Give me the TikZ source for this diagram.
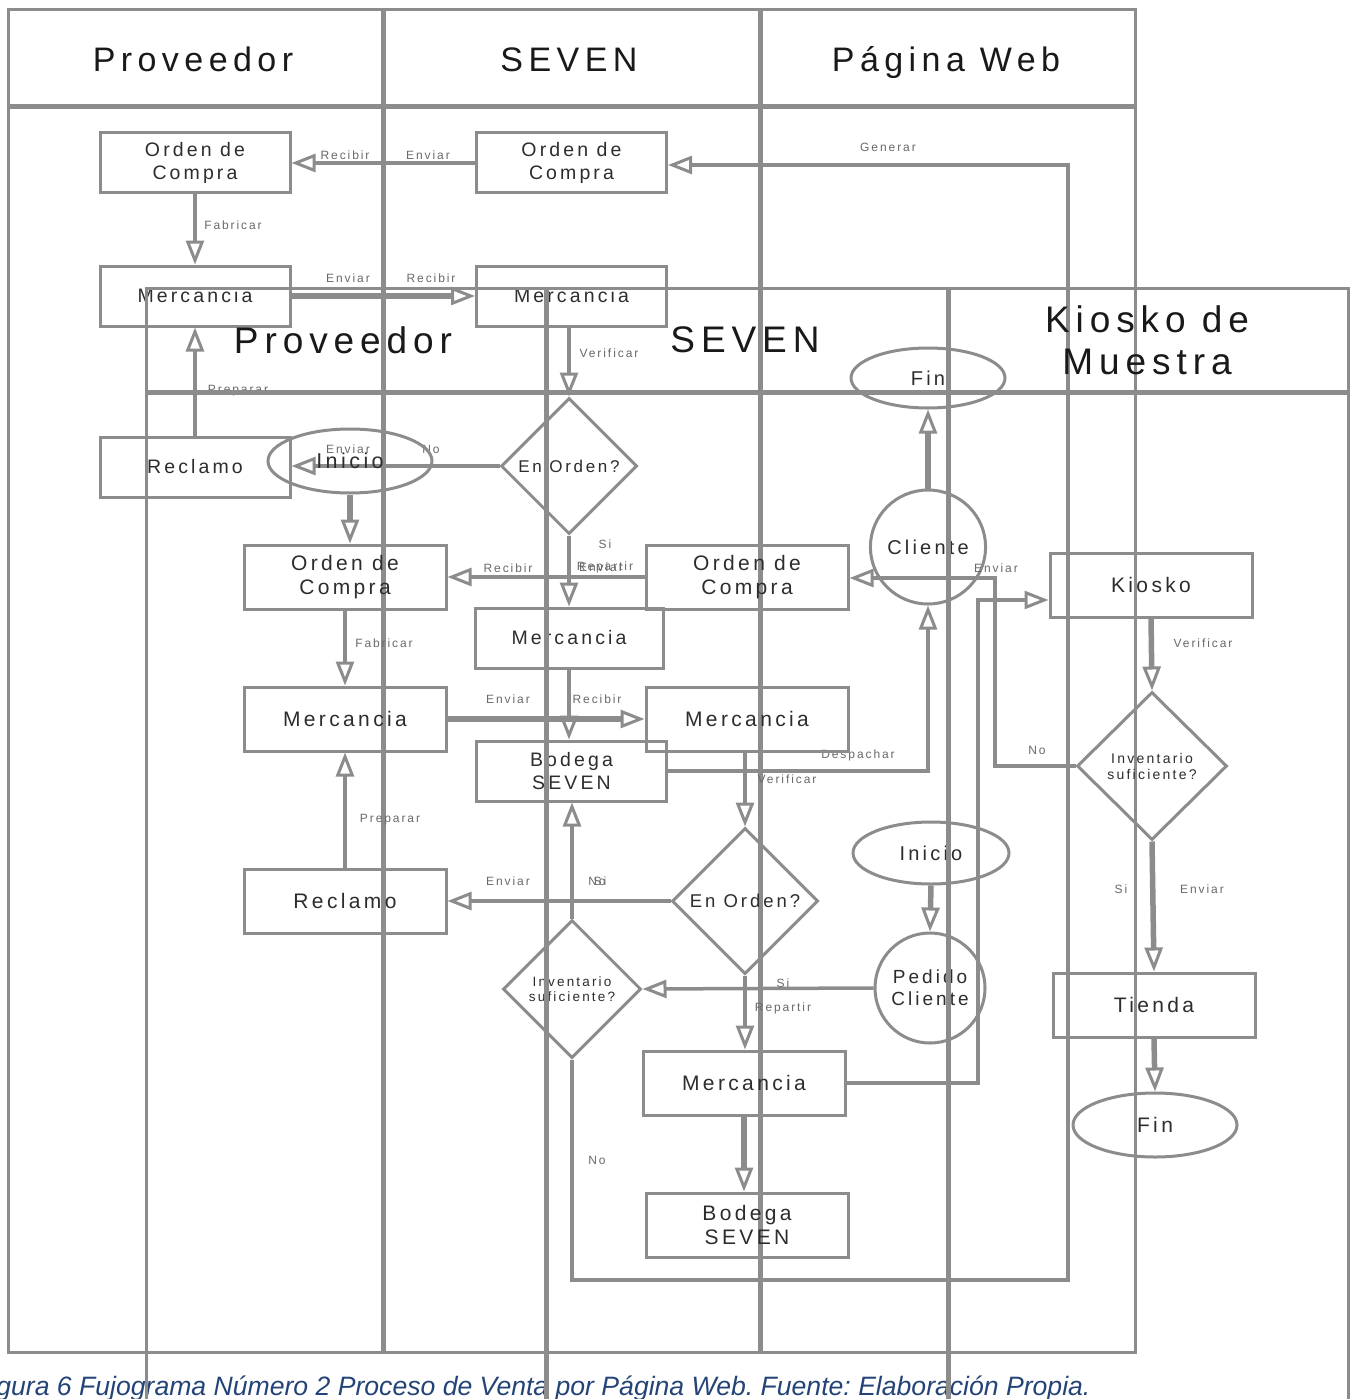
\documentclass[tikz,border=0pt]{standalone}
\usepackage{fontspec}
\setmainfont{Liberation Sans}
\newfontfamily\spfont[LetterSpace=16]{Liberation Sans}
\usetikzlibrary{shapes.geometric,arrows.meta}
\definecolor{lc}{RGB}{140,140,140}
\definecolor{tc}{RGB}{45,45,45}
\definecolor{hc}{RGB}{25,25,25}
\definecolor{lbc}{RGB}{105,105,105}
\definecolor{capc}{RGB}{36,68,120}
\frenchspacing
\begin{document}
\begin{tikzpicture}[x=1pt,y=-1pt,
  frame/.style={draw=lc, line width=3pt},
  div/.style={draw=lc, line width=5pt},
  hdr/.style={text=hc, align=center, inner sep=0pt},
  box/.style={draw=lc, line width=3pt, rectangle, inner sep=0pt, text=tc, align=center},
  abox/.style={box, minimum width=190pt, minimum height=60pt, font=\spfont\fontsize{19.5}{23}\selectfont},
  bbox/.style={box, minimum width=202pt, minimum height=64pt, font=\spfont\fontsize{21}{24}\selectfont},
  dia/.style={draw=lc, line width=3pt, diamond, inner sep=0pt, shape aspect=1, text=tc, align=center},
  ell/.style={draw=lc, line width=3pt, ellipse, inner sep=0pt, text=tc, align=center},
  conn/.style={draw=lc, line width=3.5pt},
  thk/.style={draw=lc, line width=5.5pt},
  arr/.style={-{Triangle[open,length=24pt,width=18pt,line width=3pt]}},
  lbl/.style={font=\spfont\fontsize{12}{14}\selectfont, text=lbc, inner sep=0pt}
]
\useasboundingbox (0,0) rectangle (1355,1399);
\clip (0,0) rectangle (1355,1399);
\fill[white] (0,0) rectangle (1355,1399);

% ---------------- Diagram A ----------------
\draw[frame] (8,10) rectangle (1135,1352);
\draw[div] (8,107) -- (1135,107);
\draw[div] (383,10) -- (383,1352);
\draw[div] (760,10) -- (760,1352);
\node[hdr, anchor=base, font=\spfont\fontsize{34}{40}\selectfont] (ah1) at (193,72) {Proveedor};
\node[hdr, anchor=base, font=\spfont\fontsize{34}{40}\selectfont] (ah2) at (569,72) {SEVEN};
\node[hdr, anchor=base, font=\spfont\fontsize{34}{40}\selectfont] (ah3) at (946,72) {Página Web};

\node[abox] (aOCp) at (195,163) {Orden de\\Compra};
\node[abox] (aOCs) at (571.5,163) {Orden de\\Compra};
\node[abox] (aMp) at (195,296) {Mercancia};
\node[abox] (aMs) at (571.5,296) {Mercancia};
\node[dia, minimum width=136pt, minimum height=136pt, font=\spfont\fontsize{17}{20}\selectfont] (aEO) at (569,466) {En Orden?};
\node[abox] (aRec) at (195,467) {Reclamo};
\node[abox, minimum width=188pt] (aM2) at (569,638) {Mercancia};
\node[abox] (aBod) at (571.5,771) {Bodega\\SEVEN};
\node[dia, minimum width=138pt, minimum height=138pt, font=\spfont\fontsize{13.5}{15}\selectfont] (aInv) at (572,989) {Inventario\\suficiente?};
\node[ell, minimum width=110pt, minimum height=114pt, font=\spfont\fontsize{20}{22}\selectfont] (aCli) at (928,547) {Cliente};
\node[ell, minimum width=154pt, minimum height=60pt, font=\spfont\fontsize{20}{22}\selectfont] (aFin) at (928,378) {Fin};
\node[ell, minimum width=156pt, minimum height=62pt, font=\spfont\fontsize{20}{22}\selectfont] (aIni) at (931,853) {Inicio};
\node[ell, minimum width=110pt, minimum height=110pt, font=\spfont\fontsize{19}{22}\selectfont] (aPed) at (930,988) {Pedido\\Cliente};

\draw[conn,arr] (aOCs.west) -- (aOCp.east);
\draw[conn,arr] (aInv.south) -- (572,1280) -- (1068,1280) -- (1068,165) -- (aOCs.east |- 0,165);
\draw[conn,arr] (aOCp.south) -- (aMp.north);
\draw[thk,arr] (aMp.east) -- (aMs.west);
\draw[conn,arr] (aEO.north |- aMs.south) -- (aEO.north);
\draw[conn,arr] (aEO.west) -- (aRec.east |- aEO.west);
\draw[conn,arr] (aRec.north) -- (aMp.south);
\draw[conn,arr] (aEO.south) -- (aM2.north);
\draw[conn,arr] (aM2.south) -- (aM2.south |- aBod.north);
\draw[conn,arr] (aBod.east) -| (aCli.south);
\draw[thk,arr] (aCli.north) -- (aFin.south);
\draw[thk,arr] (aIni.south) -- (aPed.north);
\draw[conn,arr] (aPed.west) -- (aInv.east);
\draw[conn,arr] (aInv.north) -- (aInv.north |- aBod.south);

\node[lbl] (la1) at (345,155) {Recibir};
\node[lbl] (la2) at (428,155) {Enviar};
\node[lbl] (la3) at (888,147) {Generar};
\node[lbl] (la4) at (233,225) {Fabricar};
\node[lbl] (la5) at (348,278) {Enviar};
\node[lbl] (la6) at (431,278) {Recibir};
\node[lbl] (la7) at (609,353) {Verificar};
\node[lbl] (la8) at (238,391) {Preparar};
\node[lbl] (la9) at (348,449) {Enviar};
\node[lbl] (la10) at (431,449) {No};
\node[lbl] (la11) at (605,544) {Si};
\node[lbl] (la12) at (605,567) {Repartir};
\node[lbl] (la13) at (858,755) {Despachar};
\node[lbl] (la14) at (600,881) {Si};
\node[lbl] (la15) at (597,1160) {No};

% ---------------- Caption ----------------
\node[anchor=base west, inner sep=0pt, text=capc, font=\fontsize{26.6}{30}\selectfont\itshape] (cap) at (-26,1395) {Figura 6 Fujograma Número 2 Proceso de Venta por Página Web. Fuente: Elaboración Propia.};

% ---------------- Diagram B ----------------
\draw[frame] (146,1420) -- (146,288) -- (1348,288) -- (1348,1420);
\draw[div] (146,392) -- (1348,392);
\draw[div] (546,288) -- (546,1420);
\draw[div] (948,288) -- (948,1420);
\node[hdr, font=\spfont\fontsize{37}{42}\selectfont] (bh1) at (343,340) {Proveedor};
\node[hdr, font=\spfont\fontsize{37}{42}\selectfont] (bh2) at (745,340) {SEVEN};
\node[hdr, font=\spfont\fontsize{37}{42}\selectfont] (bh3) at (1147,340) {Kiosko de\\Muestra};

\node[ell, minimum width=164pt, minimum height=64pt, font=\spfont\fontsize{21.5}{24}\selectfont] (bIni) at (350,461) {Inicio};
\node[bbox] (bOCp) at (345,577) {Orden de\\Compra};
\node[bbox] (bMp) at (345,719) {Mercancia};
\node[bbox] (bRec) at (345,901) {Reclamo};
\node[bbox] (bOCs) at (747,577) {Orden de\\Compra};
\node[bbox] (bMs) at (747,719) {Mercancia};
\node[dia, minimum width=146pt, minimum height=146pt, font=\spfont\fontsize{18.5}{21}\selectfont] (bEO) at (745,901) {En Orden?};
\node[bbox] (bM3) at (744,1083) {Mercancia};
\node[bbox] (bBod) at (747,1225) {Bodega\\SEVEN};
\node[bbox] (bKio) at (1151,585) {Kiosko};
\node[dia, minimum width=150pt, minimum height=148pt, font=\spfont\fontsize{14}{16}\selectfont] (bInv) at (1152,766) {Inventario\\suficiente?};
\node[bbox] (bTie) at (1154,1005) {Tienda};
\node[ell, minimum width=164pt, minimum height=64pt, font=\spfont\fontsize{21}{24}\selectfont] (bFin) at (1155,1125) {Fin};

\draw[thk,arr] (bIni.south) -- (bIni.south |- bOCp.north);
\draw[conn,arr] (bOCs.west) -- (bOCp.east);
\draw[conn,arr] (bOCp.south) -- (bMp.north);
\draw[thk,arr] (bMp.east) -- (bMs.west);
\draw[conn,arr] (bEO.north |- bMs.south) -- (bEO.north);
\draw[conn,arr] (bEO.west) -- (bRec.east);
\draw[conn,arr] (bRec.north) -- (bMp.south);
\draw[conn,arr] (bEO.south) -- (bEO.south |- bM3.north);
\draw[thk,arr] (bM3.south) -- (bM3.south |- bBod.north);
\draw[draw=lc, line width=4.5pt, arr] (bM3.east) -| (978,600) -- (bKio.west |- 0,600);
\draw[thk,arr] (bKio.south) -- (bInv.north);
\draw[conn,arr] (bInv.west) -| (995,578) -- (bOCs.east |- 0,578);
\draw[thk,arr] (bInv.south) -- (bTie.north);
\draw[thk,arr] (bTie.south) -- (bFin.north);

\node[lbl] (lb1) at (508,568) {Recibir};
\node[lbl] (lb2) at (601,567) {Enviar};
\node[lbl] (lb3) at (384,643) {Fabricar};
\node[lbl] (lb4) at (508,699) {Enviar};
\node[lbl] (lb5) at (597,699) {Recibir};
\node[lbl] (lb6) at (787,779) {Verificar};
\node[lbl] (lb7) at (390,820) {Preparar};
\node[lbl] (lb8) at (508,881) {Enviar};
\node[lbl] (lb9) at (597,881) {No};
\node[lbl] (lb10) at (783,983) {Si};
\node[lbl] (lb11) at (783,1008) {Repartir};
\node[lbl] (lb12) at (1203,643) {Verificar};
\node[lbl] (lb13) at (1037,750) {No};
\node[lbl] (lb14) at (996,568) {Enviar};
\node[lbl] (lb15) at (1121,889) {Si};
\node[lbl] (lb16) at (1202,889) {Enviar};
\end{tikzpicture}
\end{document}
